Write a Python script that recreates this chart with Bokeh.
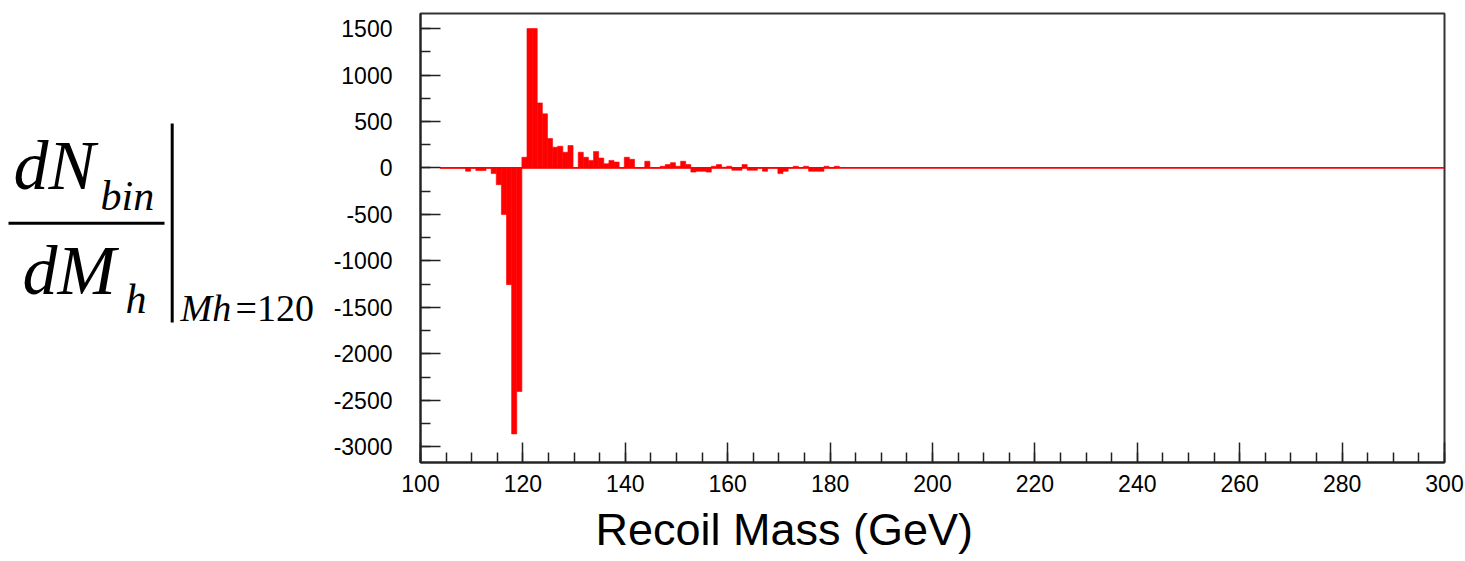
from bokeh.plotting import figure
from bokeh.models import Range1d, SingleIntervalTicker, ColumnDataSource
from bokeh.layouts import row, column
from bokeh.core.properties import value
from bokeh.embed import file_html
from bokeh.resources import INLINE

# ---- data ----
hist_lo = 103.8      # histogram range start (GeV)
hist_hi = 300.0      # histogram range end (GeV)
bin_width = 1.0      # GeV
# bin contents starting at hist_lo, one per bin (remaining bins are 0)
counts = [0, 0, 0, 0, 0, -35, 0, -28, -28, 0,
          -61, -180, -502, -1256, -2862, -2406, 115, 1500, 1500, 700,
          582, 317, 223, 234, 169, 241, 0, 169, 115, 81,
          178, 106, 45, 81, 63, 0, 115, 93, 0, 0,
          72, 0, 0, 18, 36, 57, 18, 72, 36, -45,
          -36, -36, -45, 18, 36, 8, 18, -25, -25, 36,
          -25, -25, 0, -36, 0, 0, -61, -36, 0, 18,
          0, 18, -36, -36, -36, 18, 0, 18]
x_min, x_max = 100, 300
y_min, y_max = -3170, 1662
x_ticks_interval = 20
y_ticks_interval = 500
y_tick_values = list(range(-3000, 1501, 500))
x_title = "Recoil Mass (GeV)"

# ---- formula panel ----
f = figure(width=330, height=561, x_range=Range1d(0, 330), y_range=Range1d(561, 0),
           output_backend="svg", toolbar_location=None, min_border=0,
           x_axis_type=None, y_axis_type=None, outline_line_color=None)
f.grid.visible = False
serif = value("Liberation Serif")
f.text(x=[13, 22], y=[165, 270], text=["dN", "dM"], text_font=serif,
       text_font_style="italic", text_font_size="70px", text_baseline="alphabetic",
       text_align="left", text_color="black")
f.text(x=[100, 125], y=[195, 298], text=["bin", "h"], text_font=serif,
       text_font_style="italic", text_font_size="42px", text_baseline="alphabetic",
       text_align="left", text_color="black")
f.text(x=[180], y=[307], text=["Mh"], text_font=serif,
       text_font_style="italic", text_font_size="38px", text_baseline="alphabetic",
       text_align="left", text_color="black")
f.text(x=[235], y=[307], text=["=120"], text_font=serif,
       text_font_style="normal", text_font_size="38px", text_baseline="alphabetic",
       text_align="left", text_color="black")
f.segment(x0=[8, 171.7], y0=[222.7, 123], x1=[164, 171.7], y1=[222.7, 322],
          line_color="black", line_width=3)

# ---- main histogram ----
p = figure(width=1135, height=502, x_range=Range1d(x_min, x_max), y_range=Range1d(y_min, y_max),
           output_backend="svg", toolbar_location=None,
           min_border_left=90, min_border_right=21, min_border_top=13, min_border_bottom=40,
           background_fill_color="white", border_fill_color="white")
p.grid.visible = False
p.outline_line_color = "#333333"
p.outline_line_width = 2

lefts = [hist_lo + i * bin_width for i in range(len(counts))]
src = ColumnDataSource(dict(left=lefts, right=[l + bin_width for l in lefts],
                            top=counts, bottom=[0] * len(counts)))
p.quad(left="left", right="right", top="top", bottom="bottom", source=src,
       fill_color="#ff0000", line_color="#ff0000", line_width=0.6)
p.line(x=[hist_lo, hist_hi], y=[0, 0], line_color="#ff0000", line_width=1.8)

p.xaxis.ticker = SingleIntervalTicker(interval=x_ticks_interval, num_minor_ticks=4)
p.yaxis.ticker = SingleIntervalTicker(interval=y_ticks_interval, num_minor_ticks=2)
p.yaxis.major_label_overrides = {v: str(v) for v in y_tick_values}
for ax in p.axis:
    ax.major_tick_in = 20
    ax.major_tick_out = 0
    ax.minor_tick_in = 10
    ax.minor_tick_out = 0
    ax.axis_line_width = 2
    ax.axis_line_color = "#222222"
    ax.major_tick_line_color = "#222222"
    ax.major_tick_line_width = 1.5
    ax.minor_tick_line_color = "#222222"
    ax.minor_tick_line_width = 1.5
    ax.major_label_text_font = "Liberation Sans"
    ax.major_label_text_font_size = "23px"
    ax.major_label_text_color = "black"
p.yaxis.major_label_standoff = 28
p.xaxis.major_label_standoff = 12

# ---- x title strip under the plot (its frame is aligned with the plot frame: 420..1444) ----
t = figure(width=1135, height=59, x_range=Range1d(420, 1444), y_range=Range1d(561, 502),
           output_backend="svg", toolbar_location=None, min_border=0,
           x_axis_type=None, y_axis_type=None, outline_line_color=None)
t.grid.visible = False
t.text(x=[595], y=[529], text=[x_title], text_font=value("Liberation Sans"),
       text_font_size="45px", text_align="left", text_baseline="alphabetic",
       text_color="black")

layout = row(f, column(p, t))
open("out.html", "w").write(file_html(layout, INLINE))
